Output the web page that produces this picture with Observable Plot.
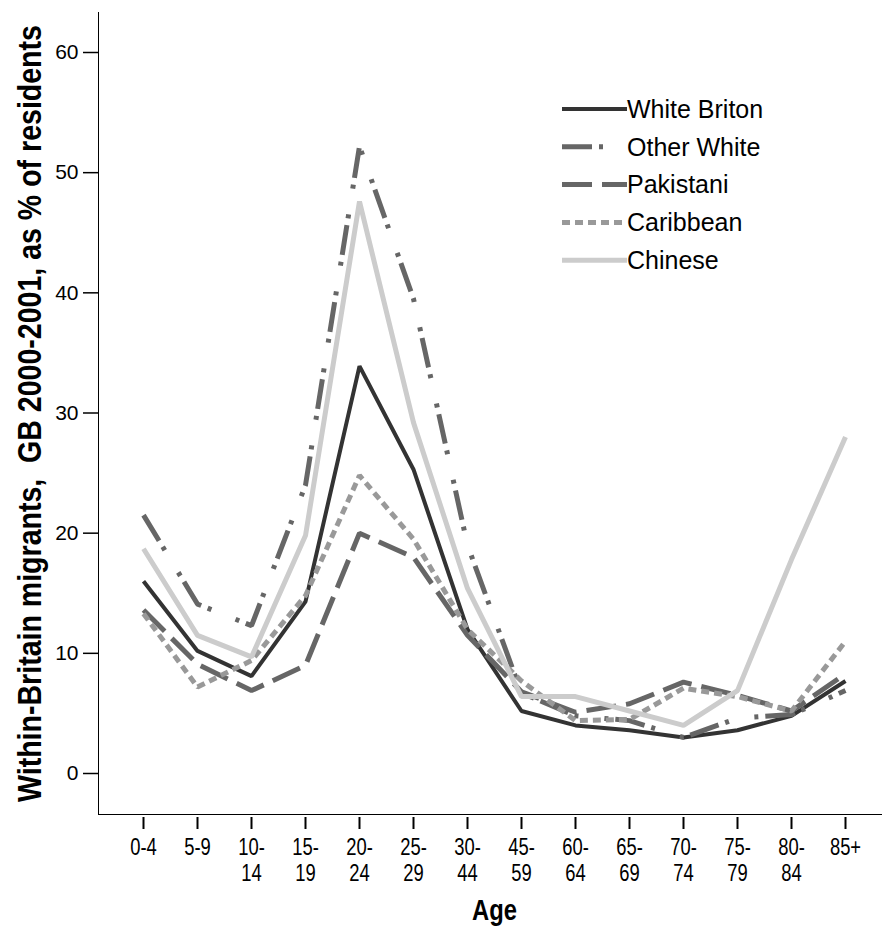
<!DOCTYPE html>
<html><head><meta charset="utf-8">
<script src="https://cdn.jsdelivr.net/npm/d3@7"></script>
<script src="https://cdn.jsdelivr.net/npm/@observablehq/plot@0.6"></script>
<style>
html,body{margin:0;padding:0;background:#fff;}
#wrap{position:relative;width:882px;height:926px;}
#legend{position:absolute;left:0;top:0;pointer-events:none;}
</style></head><body>
<div id="wrap"></div>
<script>
const categories = ["0-4","5-9","10-14","15-19","20-24","25-29","30-44","45-59","60-64","65-69","70-74","75-79","80-84","85+"];
const tickLabels = ["0-4","5-9","10-\n14","15-\n19","20-\n24","25-\n29","30-\n44","45-\n59","60-\n64","65-\n69","70-\n74","75-\n79","80-\n84","85+"];
const yTicks = [0, 10, 20, 30, 40, 50, 60];
const seriesNames = ["White Briton", "Other White", "Pakistani", "Caribbean", "Chinese"];
const whiteBriton = [16.0, 10.2, 8.1, 14.3, 33.9, 25.3, 12.0, 5.2, 4.0, 3.6, 3.0, 3.6, 4.8, 7.7];
const otherWhite  = [21.5, 14.1, 12.3, 24.0, 52.2, 39.5, 19.0, 6.7, 4.8, 4.4, 3.0, 4.6, 4.9, 6.9];
const pakistani   = [13.6, 9.1, 6.9, 9.0, 20.0, 18.0, 11.5, 6.8, 5.1, 5.8, 7.6, 6.5, 5.2, 8.3];
const caribbean   = [13.3, 7.2, 9.4, 14.8, 24.8, 19.5, 12.0, 7.7, 4.4, 4.5, 7.1, 6.4, 5.2, 11.0];
const chinese     = [18.7, 11.5, 9.7, 19.8, 47.6, 29.2, 15.4, 6.4, 6.4, 5.2, 4.0, 6.9, 17.8, 28.0];
const seriesValues = [whiteBriton, otherWhite, pakistani, caribbean, chinese];
const yTitle = "Within-Britain migrants,  GB 2000-2001, as % of residents";
const xTitle = "Age";

const styles = {
  "White Briton": {stroke: "#333333", width: 4, dash: null},
  "Other White":  {stroke: "#666666", width: 5, dash: "30,7,4,26,4,7"},
  "Pakistani":    {stroke: "#666666", width: 5, dash: "30,10"},
  "Caribbean":    {stroke: "#999999", width: 5, dash: "8,5"},
  "Chinese":      {stroke: "#cccccc", width: 5, dash: null}
};

const rows = seriesNames.flatMap((s, k) => categories.map((c, i) => ({series: s, age: c, value: seriesValues[k][i]})));

const FONT = "'Liberation Sans', Arial, sans-serif";

const chart = Plot.plot({
  width: 882, height: 926,
  marginLeft: 98, marginRight: 0, marginTop: 12, marginBottom: 112,
  style: {fontFamily: FONT, background: "#fff", color: "#000"},
  x: {type: "point", domain: categories, insetLeft: 40, insetRight: 33, padding: 0},
  y: {domain: [0, 60], insetTop: 40, insetBottom: 41},
  marks: [
    Plot.frame({anchor: "left", stroke: "#000", strokeWidth: 1}),
    Plot.frame({anchor: "bottom", stroke: "#000", strokeWidth: 1}),
    Plot.axisY(yTicks, {tickSize: 15, tickPadding: 5, fontSize: 21, label: null, strokeWidth: 1.5}),
    Plot.axisX(categories, {tickSize: 12, dy: 3, tickPadding: 8, fontSize: 23, lineHeight: 1.1,
      tickFormat: c => tickLabels[categories.indexOf(c)], label: null, strokeWidth: 2}),
    ...seriesNames.map(s => Plot.line(rows.filter(r => r.series === s), {
      x: "age", y: "value", stroke: styles[s].stroke, strokeWidth: styles[s].width,
      strokeDasharray: styles[s].dash, strokeLinejoin: "miter", strokeLinecap: "butt"
    })),
    Plot.text([yTitle], {frameAnchor: "left", textAnchor: "middle", rotate: -90, dx: -68, fontSize: 34, fontWeight: "bold", fill: "#000"}),
    Plot.text([xTitle], {frameAnchor: "bottom", dx: 4, dy: 105, fontSize: 29, fontWeight: "bold", fill: "#000"})
  ]
});
document.getElementById("wrap").appendChild(chart);

// condense texts that use a narrow face in the reference
function condenseNodes(nodes, k) {
  nodes.forEach(n => {
    const t = d3.select(n);
    t.attr("transform", (t.attr("transform") || "") + ` scale(${k},1)`);
  });
}
const allText = Array.from(chart.querySelectorAll("text"));
condenseNodes(allText.filter(n => n.textContent === yTitle), 0.84);
condenseNodes(allText.filter(n => n.textContent === xTitle), 0.82);
condenseNodes(Array.from(chart.querySelectorAll('g[aria-label="x-axis tick label"] text')), 0.8);

// Legend overlay
const legend = d3.select("#wrap").append("svg").attr("id", "legend").attr("width", 882).attr("height", 926);
seriesNames.forEach((s, k) => {
  const g = legend.append("g").attr("transform", `translate(562, ${109 + k * 37.8})`);
  g.append("line").attr("x1", 0).attr("x2", 65).attr("y1", 0).attr("y2", 0)
    .attr("stroke", styles[s].stroke).attr("stroke-width", styles[s].width)
    .attr("stroke-dasharray", styles[s].dash).attr("stroke-linecap", "butt");
  g.append("text").attr("x", 65).attr("y", 0).attr("dy", "0.35em")
    .attr("font-family", FONT).attr("font-size", 25).attr("fill", "#000").text(s);
});
</script>
</body></html>
